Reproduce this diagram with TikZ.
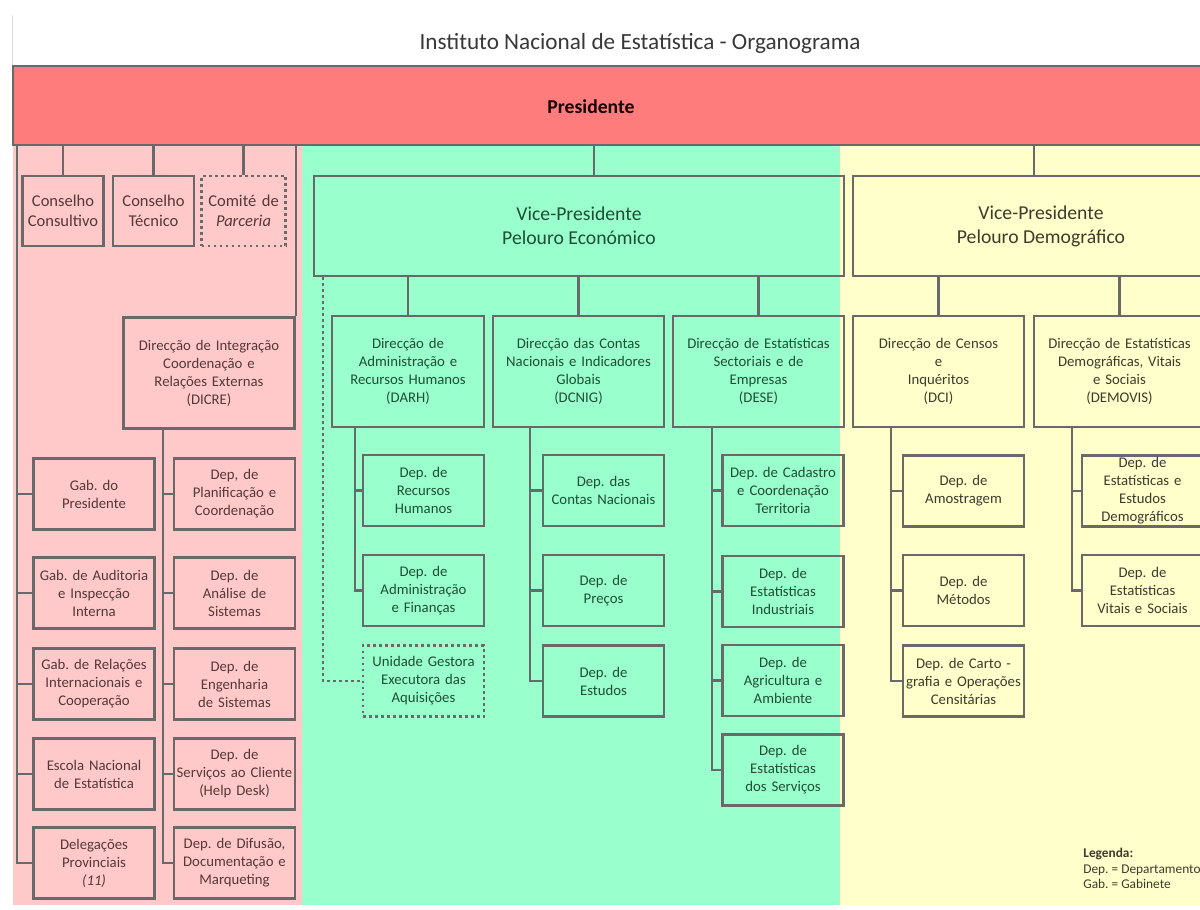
\documentclass[tikz,border=0pt]{standalone}
\usepackage{fontspec}
\setmainfont{Carlito}
\usepackage{tikz}
\frenchspacing

\definecolor{presred}{HTML}{FF7C7C}
\definecolor{rosa}{HTML}{FFC9C9}
\definecolor{verde}{HTML}{99FFCC}
\definecolor{amarelo}{HTML}{FFFFCC}
\definecolor{aresta}{HTML}{696969}
\definecolor{txtrosa}{HTML}{553838}
\definecolor{txtverde}{HTML}{1E4F35}
\definecolor{txtamarelo}{HTML}{3C3C2C}

\newcommand{\caixafonte}{\fontsize{8.4}{10.24}\selectfont}
\newcommand{\conselhofonte}{\fontsize{9.4}{11.4}\selectfont}
\newcommand{\vpfonte}{\fontsize{11.2}{13.66}\selectfont}
\newcommand{\legfonte}{\fontsize{7.6}{8.82}\selectfont}

\tikzset{
	caixa/.style={draw=aresta, line width=0.58mm, align=center, inner xsep=0.3mm, inner ysep=0pt, font=\caixafonte},
	dept/.style={caixa, text width=23.6mm, minimum height=14.2mm},
	direccao/.style={caixa, text width=33.6mm, minimum height=22.2mm},
	conselho/.style={caixa, text width=15.6mm, minimum height=14mm, font=\conselhofonte},
	vicepres/.style={caixa, minimum width=#1, minimum height=20mm, font=\vpfonte},
	pontilhado/.style={dash pattern=on 0.55mm off 0.65mm},
	ligacao/.style={draw=aresta, line width=0.58mm},
}

\begin{document}
\begin{tikzpicture}[x=0.2mm, y=-0.2mm]
	\path[use as bounding box] (0,0) rectangle (1200,909);
	\clip (0,0) rectangle (1200,909);
	\fill[white] (0,0) rectangle (1200,909);
	\draw[black!12, line width=0.3mm] (12.6,15) -- (12.6,66);

	% faixas de fundo
	\fill[rosa] (13,145) rectangle (302,905);
	\fill[verde] (302,145) rectangle (840,905);
	\fill[amarelo] (840,145) rectangle (1200,905);

	\node[text=black!78, font=\fontsize{13.2}{16}\selectfont] (titulo) at (640,43) {Instituto Nacional de Estatística - Organograma};
	\node[draw=aresta, line width=0.58mm, fill=presred, minimum width=240.4mm, minimum height=15.8mm] (pres) at (614,105.5) {};
	\node[font=\fontsize{11.2}{13}\selectfont\bfseries, text=black!90!red] (prestxt) at (591,107) {Presidente};

	% troncos
	\coordinate (kleft) at (17,0);
	\coordinate (kdicre) at (163,0);
	\coordinate (kdot) at (323,0);
	\coordinate (kdarh) at (355,0);
	\coordinate (kdcnig) at (530,0);
	\coordinate (kvpe) at (594,0);
	\coordinate (kdese) at (712,0);
	\coordinate (kdci) at (891,0);
	\coordinate (kvpd) at (1034,0);
	\coordinate (kdemo) at (1072,0);

	% Presidente
	\begin{scope}[every node/.append style={text=txtrosa}]
		\node[conselho] (consultivo) at (63,211) {Conselho\\Consultivo};
		\node[conselho] (tecnico) at (153.5,211) {Conselho\\Técnico};
		\node[conselho, text width=16.2mm, pontilhado] (comite) at (243.5,211) {Comité de\\\textit{Parceria}};
		\node[direccao] (dicre) at (209,373) {Direcção de Integração\\Coordenação e\\Relações Externas\\(DICRE)};

		\node[dept] (gabpres) at (94,494) {Gab. do\\Presidente};
		\node[dept] (auditoria) at (94,593) {Gab. de Auditoria\\e Inspecção\\Interna};
		\node[dept] (relacoes) at (94,684) {Gab. de Relações\\Internacionais e\\Cooperação};
		\node[dept] (escola) at (94,774) {Escola Nacional\\de Estatística};
		\node[dept] (delegacoes) at (94,863) {Delegações\\Provinciais\\\textit{(11)}};

		\node[dept] (planif) at (234.5,494) {Dep, de\\Planificação e\\Coordenação};
		\node[dept] (analise) at (234.5,593) {Dep. de\\Análise de\\Sistemas};
		\node[dept] (engenharia) at (234.5,684) {Dep. de\\Engenharia\\de Sistemas};
		\node[dept] (servicos) at (234.5,774) {Dep. de\\Serviços ao Cliente\\(Help Desk)};
		\node[dept] (difusao) at (234.5,863) {Dep. de Difusão,\\Documentação e\\Marqueting};
	\end{scope}

	% Pelouro Economico
	\begin{scope}[every node/.append style={text=txtverde}]
		\node[vicepres=106mm] (vpeco) at (579,226) {Vice-Presidente\\Pelouro Económico};
		\node[direccao, text width=29.8mm] (darh) at (408,371.5) {Direcção de\\Administração e\\Recursos Humanos\\(DARH)};
		\node[direccao] (dcnig) at (578.5,371.5) {Direcção das Contas\\Nacionais e Indicadores\\Globais\\(DCNIG)};
		\node[direccao] (dese) at (758.5,371.5) {Direcção de Estatísticas\\Sectoriais e de\\Empresas\\(DESE)};

		\node[dept] (rechum) at (423.5,490.5) {Dep. de\\Recursos\\Humanos};
		\node[dept] (adminfin) at (423.5,590.5) {Dep. de\\Administração\\e Finanças};
		\node[dept, pontilhado] (unidade) at (423.5,681) {Unidade Gestora\\Executora das\\Aquisições};

		\node[dept] (contas) at (603.5,490.5) {Dep. das\\Contas Nacionais};
		\node[dept] (precos) at (603.5,590.5) {Dep. de\\Preços};
		\node[dept] (estudos) at (603.5,681) {Dep. de\\Estudos};

		\node[dept] (cadastro) at (783,490.5) {Dep. de Cadastro\\e Coordenação\\Territoria};
		\node[dept] (industriais) at (783,591.5) {Dep. de\\Estatísticas\\Industriais};
		\node[dept] (agricultura) at (783,680.5) {Dep. de\\Agricultura e\\Ambiente};
		\node[dept] (servest) at (783,770) {Dep. de\\Estatísticas\\dos Serviços};
	\end{scope}

	% Pelouro Demografico
	\begin{scope}[every node/.append style={text=txtamarelo}]
		\node[vicepres=75.2mm] (vpdemo) at (1041,226) {Vice-Presidente\\Pelouro Demográfico};
		\node[direccao] (dci) at (938.5,371.5) {Direcção de Censos\\e\\Inquéritos\\(DCI)};
		\node[direccao] (demovis) at (1119.5,371.5) {Direcção de Estatísticas\\Demográficas, Vitais\\e Sociais\\(DEMOVIS)};

		\node[dept] (amostragem) at (963.5,491) {Dep. de\\Amostragem};
		\node[dept] (metodos) at (963.5,590.5) {Dep. de\\Métodos};
		\node[dept] (cartografia) at (963.5,681) {Dep. de Carto -\\grafia e Operações\\Censitárias};

		\node[dept] (demograficos) at (1142.5,491) {Dep. de\\Estatísticas e\\Estudos\\Demográficos};
		\node[dept] (vitais) at (1142.5,590.5) {Dep. de\\Estatísticas\\Vitais e Sociais};

		\node[anchor=north west, align=left, font=\legfonte, inner sep=0pt] (legenda) at (1083,848) {\textbf{Legenda:}\\Dep. = Departamento\\Gab. = Gabinete};
	\end{scope}

	% ligacoes
	\foreach \c in {consultivo,tecnico,comite}{
		\draw[ligacao] (\c.north) -- (\c.north |- pres.south);
	}
	\draw[ligacao] (dicre.north east) -- (dicre.north east |- pres.south);
	\draw[ligacao] (kleft |- pres.south) |- (delegacoes.west);
	\foreach \g in {gabpres,auditoria,relacoes,escola}
		\draw[ligacao] (\g.west) -- (\g.west -| kleft);
	\draw[ligacao] (kdicre |- dicre.south) |- (difusao.west);
	\foreach \d in {planif,analise,engenharia,servicos}
		\draw[ligacao] (\d.west) -- (\d.west -| kdicre);

	\draw[ligacao] (kvpe |- vpeco.north) -- (kvpe |- pres.south);
	\draw[ligacao] (kvpd |- vpdemo.north) -- (kvpd |- pres.south);
	\foreach \d in {darh,dcnig,dese}
		\draw[ligacao] (\d.north) -- (\d.north |- vpeco.south);
	\foreach \d in {dci,demovis}
		\draw[ligacao] (\d.north) -- (\d.north |- vpdemo.south);

	\draw[ligacao, pontilhado] (kdot |- vpeco.south) |- (unidade.west);
	\draw[ligacao] (kdarh |- darh.south) |- (adminfin.west);
	\draw[ligacao] (rechum.west) -- (rechum.west -| kdarh);
	\draw[ligacao] (kdcnig |- dcnig.south) |- (estudos.west);
	\foreach \d in {contas,precos}
		\draw[ligacao] (\d.west) -- (\d.west -| kdcnig);
	\draw[ligacao] (kdese |- dese.south) |- (servest.west);
	\foreach \d in {cadastro,industriais,agricultura}
		\draw[ligacao] (\d.west) -- (\d.west -| kdese);
	\draw[ligacao] (kdci |- dci.south) |- (cartografia.west);
	\foreach \d in {amostragem,metodos}
		\draw[ligacao] (\d.west) -- (\d.west -| kdci);
	\draw[ligacao] (kdemo |- demovis.south) |- (vitais.west);
	\draw[ligacao] (demograficos.west) -- (demograficos.west -| kdemo);
\end{tikzpicture}
\end{document}
